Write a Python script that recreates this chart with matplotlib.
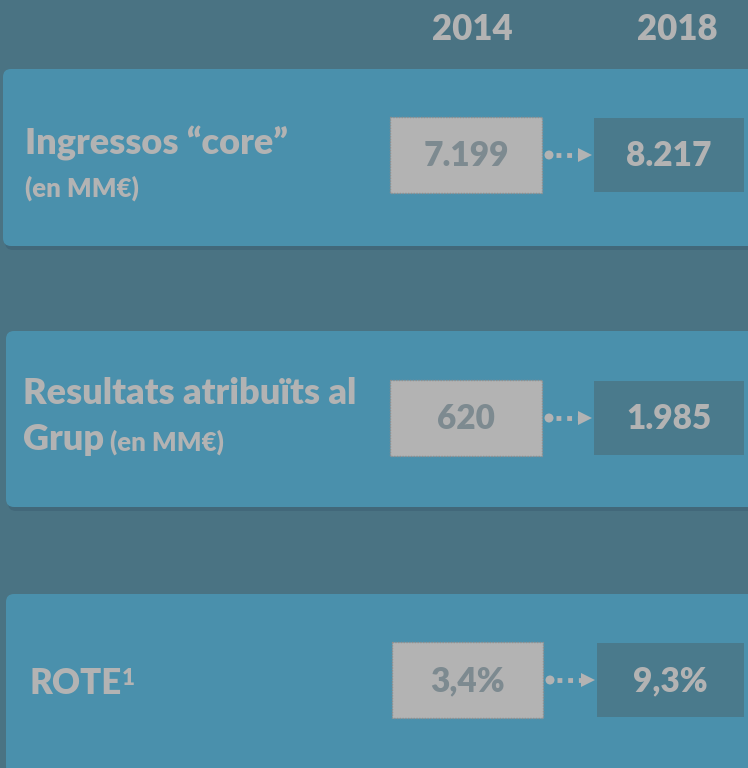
import matplotlib
matplotlib.use("Agg")
import matplotlib.pyplot as plt
from matplotlib.patches import FancyBboxPatch, Rectangle, Circle, Polygon

# data
years = ["2014", "2018"]
labels = ["Ingressos \u201ccore\u201d", "Resultats atribuïts al", "ROTE"]
values_2014 = ["7.199", "620", "3,4%"]
values_2018 = ["8.217", "1.985", "9,3%"]

BG = "#4a7383"
PANEL = "#4a90ac"
GREY = "#b3b3b3"
DARKBOX = "#4a7a8c"
GREYTXT = "#7d8a90"
W = "heavy"

plt.rcParams["font.family"] = ["Lato", "DejaVu Sans"]

fig = plt.figure(figsize=(7.48, 7.68), dpi=100)
fig.patch.set_facecolor(BG)
ax = fig.add_axes([0, 0, 1, 1])
ax.set_xlim(0, 748)
ax.set_ylim(768, 0)
ax.axis("off")

panels = [(3, 69, 177), (6, 331, 176), (6, 594, 180)]
rows_y = [155, 418, 680]
g_x = [(390, 152), (390, 152), (392, 151)]
d_x = [(594, 150), (594, 150), (597, 147)]

for i, (px, py, ph) in enumerate(panels):
    # shadow
    sh = FancyBboxPatch((px + 2, py + 4), 800, ph, boxstyle="round,pad=0,rounding_size=8",
                        facecolor="#42687a", edgecolor="none", zorder=1)
    ax.add_patch(sh)
    p = FancyBboxPatch((px, py), 800, ph, boxstyle="round,pad=0,rounding_size=8",
                       facecolor=PANEL, edgecolor="none", zorder=2)
    ax.add_patch(p)
    cy = rows_y[i]
    gx, gw = g_x[i]
    ax.add_patch(Rectangle((gx, cy - 38), gw, 76, facecolor=GREY, edgecolor="#8f8f8f",
                           linestyle=(0, (1, 1)), linewidth=1, zorder=3))
    ax.text(gx + gw / 2, cy + 1, values_2014[i], ha="center", va="center", fontsize=24,
            fontweight=W, color=GREYTXT, zorder=4)
    dx, dw = d_x[i]
    ax.add_patch(Rectangle((dx, cy - 37), dw, 74, facecolor=DARKBOX, edgecolor="none", zorder=3))
    ax.text(dx + dw / 2, cy + 1, values_2018[i], ha="center", va="center", fontsize=24,
            fontweight=W, color=GREY, zorder=4)
    # arrow
    ax.add_patch(Circle((gx + gw + 7, cy), 4.5, facecolor=GREY, edgecolor="none", zorder=4))
    ax.plot([gx + gw + 14, dx - 15], [cy, cy], color=GREY, linewidth=3.5,
            linestyle=(0, (1.0, 1.2)), zorder=4)
    ax.add_patch(Polygon([[dx - 16, cy - 7], [dx - 2, cy], [dx - 16, cy + 7]],
                         closed=True, facecolor=GREY, edgecolor="none", zorder=4))

# headers
ax.text(472, 30, years[0], ha="center", va="center", fontsize=25, fontweight=W, color=GREY)
ax.text(677, 30, years[1], ha="center", va="center", fontsize=25, fontweight=W, color=GREY)

# row labels
ax.text(25, 143, labels[0], ha="left", va="center", fontsize=26, fontweight=W, color=GREY, zorder=5)
ax.text(25, 188, "(en MM€)", ha="left", va="center", fontsize=18.5, fontweight=W, color=GREY, zorder=5)

ax.text(23, 393, labels[1], ha="left", va="center", fontsize=26, fontweight=W, color=GREY, zorder=5)
grup = ax.text(23, 440, "Grup", ha="left", va="center", fontsize=26, fontweight=W, color=GREY, zorder=5)
ax.annotate("(en MM€)", xy=(1, 0), xycoords=grup, xytext=(4, 1), textcoords="offset points",
            ha="left", va="bottom", fontsize=18.5, fontweight=W, color=GREY, zorder=5)

rote = ax.text(30, 683, labels[2], ha="left", va="center", fontsize=25, fontweight=W, color=GREY, zorder=5)
ax.annotate("1", xy=(1, 1), xycoords=rote, xytext=(0, -1), textcoords="offset points",
            ha="left", va="top", fontsize=16, fontweight=W, color=GREY, zorder=5)

fig.savefig("out.png", dpi=100, facecolor=BG)
